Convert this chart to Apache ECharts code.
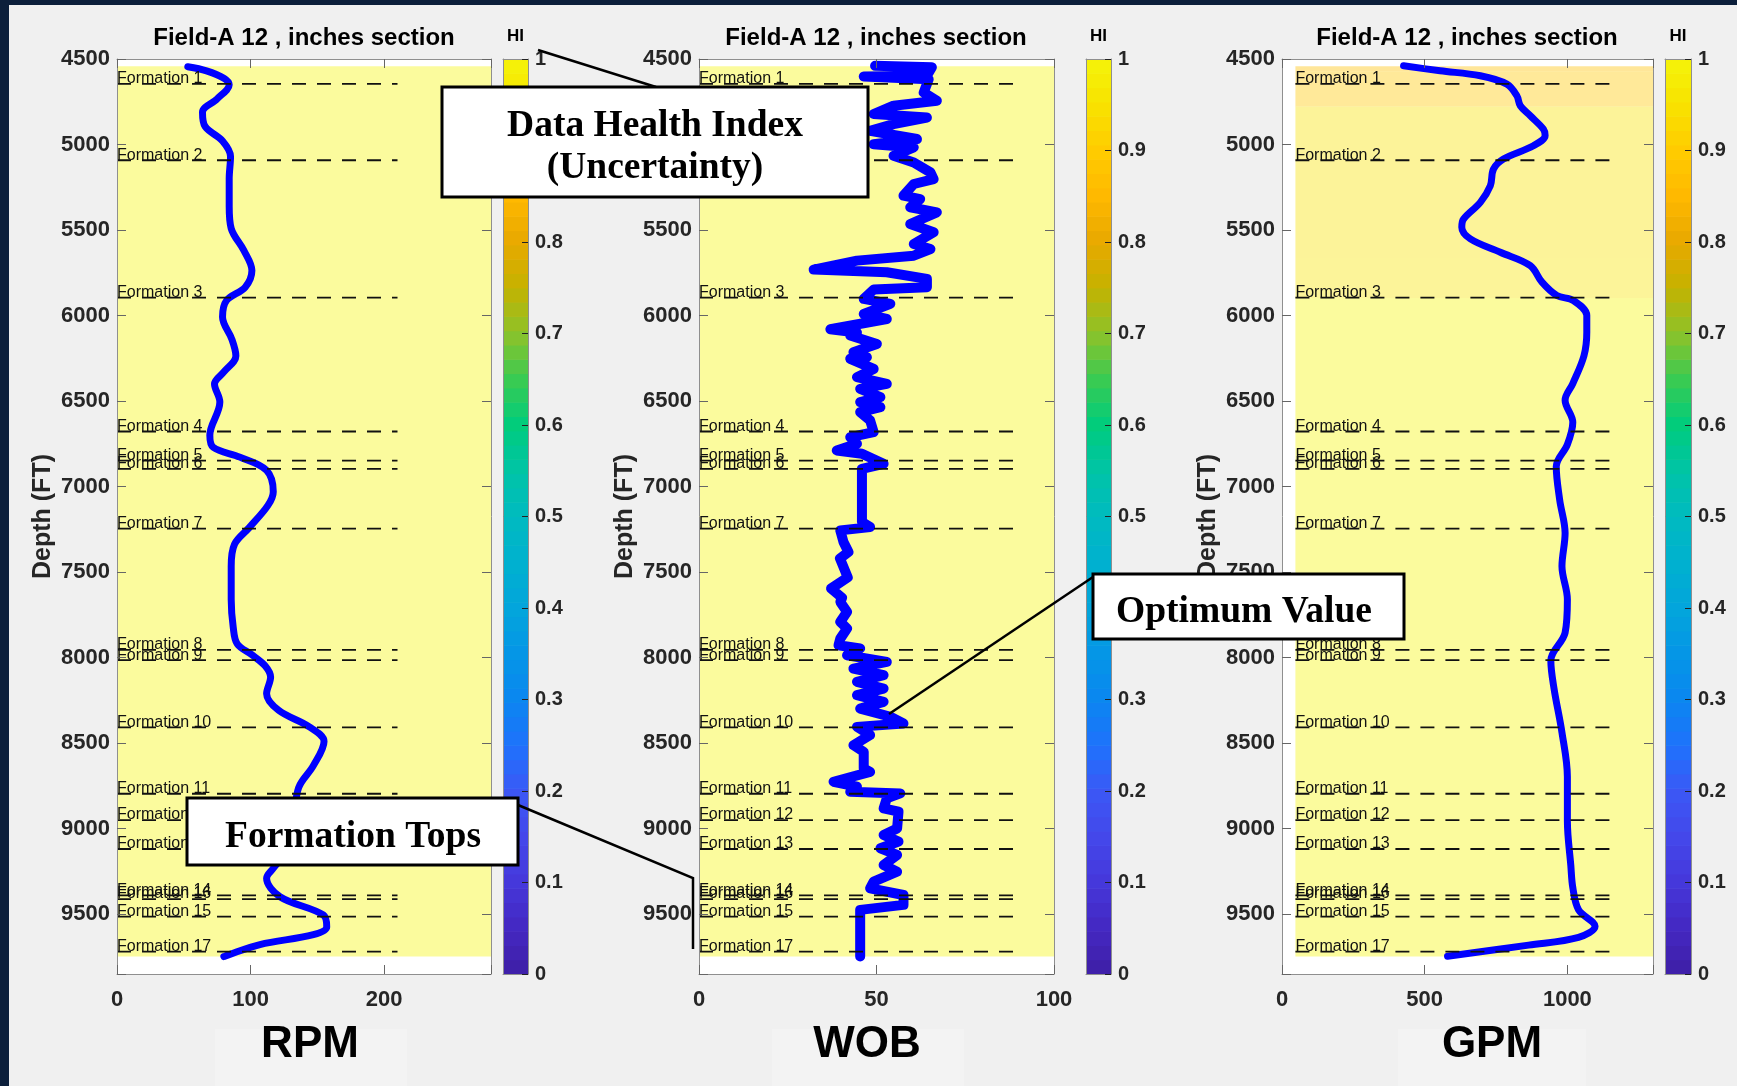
<!DOCTYPE html>
<html><head><meta charset="utf-8">
<script src="https://cdn.jsdelivr.net/npm/echarts@6/dist/echarts.min.js"></script>
<style>html,body{margin:0;padding:0;background:#f0f0f0;} #c{width:1737px;height:1086px;}</style>
</head><body><div id="c"></div>
<script>
// ---------------- data ----------------
const formationNames = ['Formation 1','Formation 2','Formation 3','Formation 4','Formation 5','Formation 6','Formation 7','Formation 8','Formation 9','Formation 10','Formation 11','Formation 12','Formation 13','Formation 14','Formation 15','Formation 16','Formation 17'];
const formationDepths = [4645,5092,5895,6678,6848,6896,7246,7955,8015,8408,8796,8950,9119,9390,9515,9412,9719];

const rpmData = [[53,4545],[67,4569],[80,4612],[84,4650],[75,4733],[64,4811],[66,4895],[79,4979],[85,5070],[84,5200],[84,5361],[85.5,5491],[95,5620],[101,5737],[96,5834],[82,5912],[79,6009],[86,6139],[89,6236],[80,6330],[73,6400],[77,6506],[69.5,6700],[72,6770],[92,6828],[112,6905],[117,7030],[113,7110],[99,7240],[88,7337],[85.5,7466],[85.5,7660],[87,7822],[90,7920],[101,7984],[111,8049],[115,8114],[112,8211],[121,8308],[144,8405],[155,8490],[147,8632],[136,8760],[132,8956],[125,9150],[117,9232],[112,9290],[122,9398],[154.5,9505],[157,9575],[147,9620],[107,9678],[80,9748]];

const wobData = [[49.6,4540],[65.6,4548],[64.2,4598],[46.4,4602],[64.7,4618],[63.3,4696],[67,4744],[54.8,4773],[49.2,4822],[64.2,4842],[54.8,4881],[48.2,4920],[61.4,4968],[49.2,4998],[60.5,5017],[54.8,5066],[60.5,5105],[65.2,5163],[66.1,5202],[60.5,5231],[57.6,5299],[62.3,5319],[59.5,5367],[67,5397],[59.5,5465],[66.1,5513],[60.5,5582],[65.2,5611],[60.5,5650],[44.5,5679],[32.3,5731],[52.9,5747],[64.2,5786],[64.2,5835],[49.2,5848],[46.4,5903],[53.9,5932],[46.4,5991],[52.9,6020],[37,6080],[44.5,6100],[42.6,6117],[50.1,6166],[43.5,6214],[47.3,6244],[42.6,6253],[49.2,6312],[44.5,6360],[52.9,6400],[45.4,6429],[51.1,6477],[45.4,6506],[51.1,6536],[45.4,6565],[48.2,6613],[49.2,6682],[42.6,6711],[44.5,6750],[38.8,6789],[45.9,6808],[52,6867],[45.9,6896],[45.9,7207],[48.2,7237],[39.8,7256],[40.7,7324],[42.1,7383],[39.7,7420],[41.9,7531],[37.2,7596],[40.3,7650],[39.8,7675],[41.7,7733],[39.8,7791],[41.7,7830],[39.8,7889],[39.3,7928],[45.4,7947],[41.7,7986],[52.9,8025],[43.5,8064],[52,8103],[44.5,8142],[52,8181],[44.5,8220],[52,8259],[45.4,8298],[53.9,8346],[57.6,8385],[44.5,8405],[48.2,8453],[43.5,8512],[46.4,8551],[46.4,8648],[48.2,8668],[37.9,8726],[44.5,8755],[42.6,8784],[56.7,8794],[52.9,8823],[52,8882],[56.2,8901],[55.8,8999],[52,9037],[56.2,9076],[51.1,9115],[55.8,9154],[52,9213],[55.8,9252],[49.2,9310],[48.2,9349],[57.6,9388],[57.6,9446],[45.4,9475],[45.4,9748]];

const gpmData = [[426,4540],[554,4569],[695,4598],[788,4647],[823,4715],[835,4773],[870,4832],[916,4910],[922,4948],[881,5007],[776,5085],[741,5144],[730,5241],[695,5338],[636,5436],[630,5484],[660,5552],[765,5630],[870,5708],[911,5805],[963,5883],[1021,5912],[1068,6000],[1068,6098],[1058,6236],[1019,6398],[992,6495],[1019,6624],[1000,6754],[961,6883],[973,7078],[992,7272],[981,7466],[1000,7661],[992,7855],[942,8017],[953,8179],[981,8438],[1000,8697],[1000,8956],[1012,9215],[1019,9345],[1039,9474],[1097,9571],[1039,9636],[864,9681],[580,9746]];

// HI bands: [HI, xStart, xEnd, depthTop, depthBottom]
const hiRPM = [[1.0,0,280,4542,9748]];
const hiWOB = [[1.0,0,100,4542,9748]];
const hiGPM = [[0.87,47,1300,4542,4572],[0.89,47,1300,4572,4778],[0.95,47,1300,4778,5663],[0.955,47,1300,5663,5897],[1.0,47,1300,5897,9748]];

const depthTicks = {min:4500, max:9850, interval:500};
const hiTicks = {min:0, max:1, interval:0.1};
const parula = ['#3e1fa6','#4428c2','#4537da','#4447ea','#3b58f5','#1f72fc','#0a86f0','#0596e6','#03a5dc','#00b1cf','#00bbc0','#00c4a6','#00cc7c','#3acb52','#8cc22a','#c4b300','#e8a900','#ffb800','#ffcc00','#f8e200','#f4f40a'];
const cbCells = Array.from({length:64},(_, i)=>[(i+0.5)/64, i/64, (i+1)/64]);

// ---------------- layout ----------------
const FONT = '"Liberation Sans", Arial, Helvetica, sans-serif';
const SERIF = '"Liberation Serif", "Times New Roman", serif';
const AX = '#8f8f8f', TXT = '#262626';
const TOP = 59, H = 915;
const panels = [
  {grid:{left:117, top:TOP, width:374, height:H}, xmax:280, xint:100, hi:hiRPM, data:rpmData, topStart:0, topEnd:210, width:7, smooth:0.35},
  {grid:{left:699, top:TOP, width:355, height:H}, xmax:100, xint:50, hi:hiWOB, data:wobData, topStart:0, topEnd:90, width:10, smooth:false},
  {grid:{left:1282, top:TOP, width:371, height:H}, xmax:1300, xint:500, hi:hiGPM, data:gpmData, topStart:47, topEnd:1160, width:7, smooth:0.35}
];
const cbars = [{left:503, width:25},{left:1086, width:25},{left:1665, width:26}];

const grid = [], xAxis = [], yAxis = [], series = [];
panels.forEach((p,i)=>{
  grid.push(Object.assign({show:true, backgroundColor:'#ffffff', borderWidth:0, outerBoundsMode:'none', containLabel:false}, p.grid));
});
cbars.forEach(c=>{
  grid.push({show:false, left:c.left, top:TOP, width:c.width, height:H, outerBoundsMode:'none', containLabel:false});
});
const lineOnly = {show:true, onZero:false, lineStyle:{color:AX, width:1}};
const tickIn = {show:true, inside:true, length:9, lineStyle:{color:'#666'}};
panels.forEach((p,i)=>{
  xAxis.push({gridIndex:i, type:'value', position:'bottom', min:0, max:p.xmax, interval:p.xint, z:5,
    axisLine:lineOnly, splitLine:{show:false}, axisTick:tickIn,
    axisLabel:{show:true, margin:15, fontSize:22, fontWeight:'bold', color:TXT, fontFamily:FONT,
      showMinLabel:true, showMaxLabel:true,
      formatter:v=> (Math.abs(v % p.xint) < 1e-6 ? String(v) : '')}});
  xAxis.push({gridIndex:i, type:'value', position:'top', min:0, max:p.xmax, interval:p.xint, z:5,
    axisLine:lineOnly, splitLine:{show:false}, axisTick:tickIn, axisLabel:{show:false}});
  yAxis.push({gridIndex:i, type:'value', position:'left', inverse:true, min:depthTicks.min, max:depthTicks.max, interval:depthTicks.interval, z:5,
    axisLine:lineOnly, splitLine:{show:false}, axisTick:tickIn,
    axisLabel:{show:true, margin:7, fontSize:22, fontWeight:'bold', color:TXT, fontFamily:FONT,
      showMinLabel:true, showMaxLabel:true,
      formatter:v=> (v % depthTicks.interval === 0 ? String(v) : '')},
    name:'Depth (FT)', nameLocation:'middle', nameGap:61,
    nameTextStyle:{fontSize:25, fontWeight:'bold', color:TXT, fontFamily:FONT}});
  yAxis.push({gridIndex:i, type:'value', position:'right', inverse:true, min:depthTicks.min, max:depthTicks.max, interval:depthTicks.interval, z:5,
    axisLine:lineOnly, splitLine:{show:false}, axisTick:tickIn, axisLabel:{show:false}});
});
cbars.forEach((c,k)=>{
  const gi = 3+k;
  xAxis.push({gridIndex:gi, type:'value', position:'bottom', min:0, max:1, z:5, axisLine:lineOnly, axisTick:{show:false}, axisLabel:{show:false}, splitLine:{show:false}});
  xAxis.push({gridIndex:gi, type:'value', position:'top', min:0, max:1, z:5, axisLine:lineOnly, axisTick:{show:false}, axisLabel:{show:false}, splitLine:{show:false}});
  yAxis.push({gridIndex:gi, type:'value', position:'right', min:hiTicks.min, max:hiTicks.max, interval:hiTicks.interval, z:5,
    axisLine:lineOnly, splitLine:{show:false},
    axisTick:{show:true, inside:true, length:6, lineStyle:{color:'#222'}},
    axisLabel:{show:true, margin:7, fontSize:20, fontWeight:'bold', color:TXT, fontFamily:FONT,
      formatter:v=>String(Math.round(v*10)/10)}});
  yAxis.push({gridIndex:gi, type:'value', position:'left', min:0, max:1, z:5, axisLine:lineOnly, axisTick:{show:false}, axisLabel:{show:false}, splitLine:{show:false}});
});

// background HI cells
panels.forEach((p,i)=>{
  series.push({type:'custom', xAxisIndex:2*i, yAxisIndex:2*i, z:1, silent:true,
    encode:{x:[1,2], y:[3,4]},
    data:p.hi,
    renderItem:(params, api)=>{
      const a = api.coord([api.value(1), api.value(3)]);
      const b = api.coord([api.value(2), api.value(4)]);
      return {type:'rect', shape:{x:a[0], y:a[1], width:b[0]-a[0], height:b[1]-a[1]},
        style:{fill:api.visual('color'), opacity:0.4}};
    }});
});
// colorbar cells
cbars.forEach((c,k)=>{
  series.push({type:'custom', xAxisIndex:6+2*k, yAxisIndex:6+2*k, z:1, silent:true,
    encode:{y:[1,2]},
    data:cbCells,
    renderItem:(params, api)=>{
      const a = api.coord([0, api.value(1)]);
      const b = api.coord([1, api.value(2)]);
      return {type:'rect', shape:{x:a[0], y:b[1], width:b[0]-a[0], height:a[1]-b[1]+0.6},
        style:{fill:api.visual('color')}};
    }});
});
// curves
panels.forEach((p,i)=>{
  series.push({type:'line', xAxisIndex:2*i, yAxisIndex:2*i, z:3, silent:true,
    data:p.data, showSymbol:false, symbol:'none', smooth:p.smooth,
    lineStyle:{color:'#0000ff', width:p.width, cap:'round', join:'round'}});
});
// formation tops
panels.forEach((p,i)=>{
  series.push({type:'custom', xAxisIndex:2*i, yAxisIndex:2*i, z:4, silent:true,
    encode:{y:0},
    data:formationDepths.map((d,j)=>[d,j]),
    renderItem:(params, api)=>{
      const d = api.value(0), j = api.value(1);
      const a = api.coord([p.topStart, d]);
      const b = api.coord([p.topEnd, d]);
      return {type:'group', children:[
        {type:'line', shape:{x1:a[0], y1:a[1], x2:b[0], y2:b[1]}, style:{stroke:'#111', lineWidth:1.8, lineDash:[14,11]}},
        {type:'text', style:{text:formationNames[j], x:a[0], y:a[1]+3, fill:'#111', font:'16px ' + FONT, verticalAlign:'bottom', align:'left'}}
      ]};
    }});
});

const titleText = 'Field-A 12 , inches section';
const graphic = [
  {type:'rect', shape:{x:0,y:0,width:1737,height:5}, style:{fill:'#0c1f3b'}, z:200},
  {type:'rect', shape:{x:0,y:0,width:9,height:1086}, style:{fill:'#0c1f3b'}, z:200},
  {type:'rect', shape:{x:215,y:1029,width:192,height:57}, style:{fill:'#f3f3f3'}, z:1},
  {type:'rect', shape:{x:772,y:1029,width:192,height:57}, style:{fill:'#f3f3f3'}, z:1},
  {type:'rect', shape:{x:1398,y:1029,width:188,height:57}, style:{fill:'#f3f3f3'}, z:1},
  {type:'text', x:310, y:1045, style:{text:'RPM', font:'bold 44px ' + FONT, fill:'#000', align:'center', verticalAlign:'middle'}, z:2},
  {type:'text', x:867, y:1045, style:{text:'WOB', font:'bold 44px ' + FONT, fill:'#000', align:'center', verticalAlign:'middle'}, z:2},
  {type:'text', x:1492, y:1045, style:{text:'GPM', font:'bold 44px ' + FONT, fill:'#000', align:'center', verticalAlign:'middle'}, z:2},
  {type:'text', x:304, y:38, style:{text:titleText, font:'bold 24px ' + FONT, fill:'#000', align:'center', verticalAlign:'middle'}, z:2},
  {type:'text', x:876, y:38, style:{text:titleText, font:'bold 24px ' + FONT, fill:'#000', align:'center', verticalAlign:'middle'}, z:2},
  {type:'text', x:1467, y:38, style:{text:titleText, font:'bold 24px ' + FONT, fill:'#000', align:'center', verticalAlign:'middle'}, z:2},
  {type:'text', x:515.5, y:36, style:{text:'HI', font:'bold 17px ' + FONT, fill:'#000', align:'center', verticalAlign:'middle'}, z:2},
  {type:'text', x:1098.5, y:36, style:{text:'HI', font:'bold 17px ' + FONT, fill:'#000', align:'center', verticalAlign:'middle'}, z:2},
  {type:'text', x:1678, y:36, style:{text:'HI', font:'bold 17px ' + FONT, fill:'#000', align:'center', verticalAlign:'middle'}, z:2},
  // annotations
  {type:'line', shape:{x1:538,y1:50,x2:656,y2:87}, style:{stroke:'#000', lineWidth:2.5}, z:100},
  {type:'rect', shape:{x:442,y:87,width:426,height:110}, style:{fill:'#fff', stroke:'#000', lineWidth:3}, z:101},
  {type:'text', x:655, y:126, style:{text:'Data Health Index', font:'bold 37.5px ' + SERIF, fill:'#000', align:'center', verticalAlign:'middle'}, z:102},
  {type:'text', x:655, y:168, style:{text:'(Uncertainty)', font:'bold 37.5px ' + SERIF, fill:'#000', align:'center', verticalAlign:'middle'}, z:102},
  {type:'line', shape:{x1:1093,y1:577,x2:889,y2:714}, style:{stroke:'#000', lineWidth:2.5}, z:100},
  {type:'rect', shape:{x:1093,y:574,width:311,height:65}, style:{fill:'#fff', stroke:'#000', lineWidth:3}, z:101},
  {type:'text', x:1244, y:612, style:{text:'Optimum Value', font:'bold 37.5px ' + SERIF, fill:'#000', align:'center', verticalAlign:'middle'}, z:102},
  {type:'polyline', shape:{points:[[518,805],[693,878],[693,949]]}, style:{stroke:'#000', lineWidth:2.5, fill:null}, z:100},
  {type:'rect', shape:{x:187,y:798,width:331,height:67}, style:{fill:'#fff', stroke:'#000', lineWidth:3}, z:101},
  {type:'text', x:353, y:837, style:{text:'Formation Tops', font:'bold 37.5px ' + SERIF, fill:'#000', align:'center', verticalAlign:'middle'}, z:102}
];

const chart = echarts.init(document.getElementById('c'), null, {renderer:'canvas', width:1737, height:1086});
chart.setOption({
  backgroundColor:'#f0f0f0',
  animation:false,
  grid, xAxis, yAxis, series, graphic,
  visualMap:[{type:'continuous', show:false, min:0, max:1, dimension:0, seriesIndex:[0,1,2,3,4,5], inRange:{color:parula}}]
});
</script></body></html>
